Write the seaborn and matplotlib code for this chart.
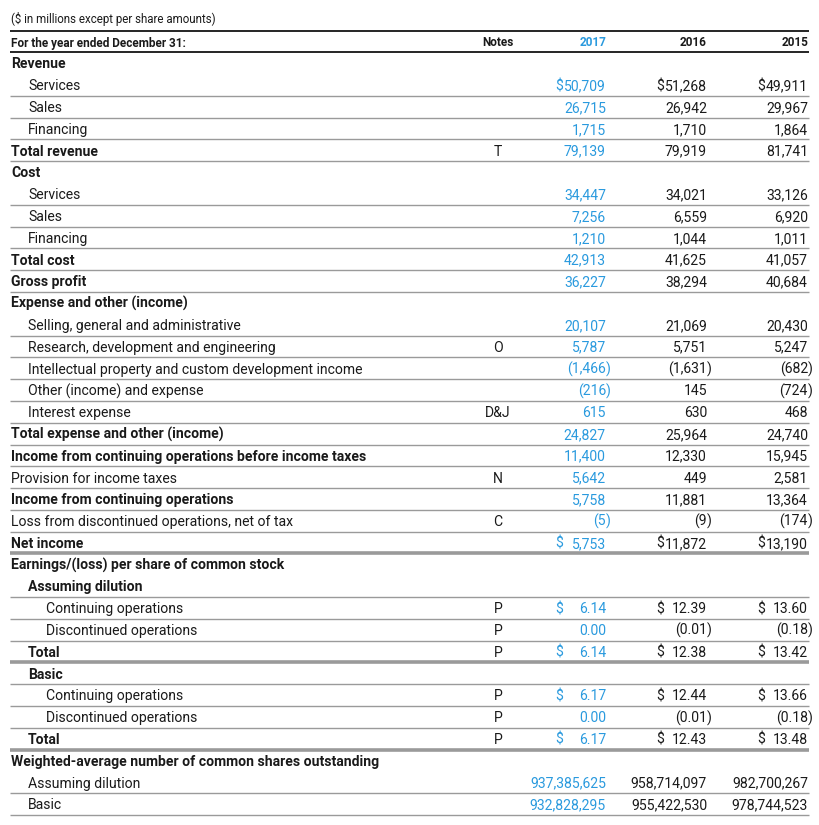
import matplotlib
matplotlib.use("Agg")
import matplotlib.pyplot as plt
import seaborn as sns

# IBM income statement, $ in millions except per share amounts
labels = [
    "Revenue", "Services", "Sales", "Financing", "Total revenue",
    "Cost", "Services", "Sales", "Financing", "Total cost", "Gross profit",
    "Expense and other (income)", "Selling, general and administrative",
    "Research, development and engineering",
    "Intellectual property and custom development income",
    "Other (income) and expense", "Interest expense",
    "Total expense and other (income)",
    "Income from continuing operations before income taxes",
    "Provision for income taxes", "Income from continuing operations",
    "Loss from discontinued operations, net of tax", "Net income",
    "Earnings/(loss) per share of common stock", "Assuming dilution",
    "Continuing operations", "Discontinued operations", "Total",
    "Basic", "Continuing operations", "Discontinued operations", "Total",
    "Weighted-average number of common shares outstanding",
    "Assuming dilution", "Basic",
]
indent = [0, 1, 1, 1, 0, 0, 1, 1, 1, 0, 0, 0, 1, 1, 1, 1, 1, 0, 0, 0, 0, 0, 0,
          0, 1, 2, 2, 1, 1, 2, 2, 1, 0, 1, 1]
bold = [1, 0, 0, 0, 1, 1, 0, 0, 0, 1, 1, 1, 0, 0, 0, 0, 0, 1, 1, 0, 1, 0, 1,
        1, 1, 0, 0, 1, 1, 0, 0, 1, 1, 0, 0]
notes = ["", "", "", "", "T", "", "", "", "", "", "", "", "", "O", "", "", "D&J",
         "", "", "N", "", "C", "", "", "", "P", "P", "P", "", "P", "P", "P",
         "", "", ""]
# row kind: h = header (no values), m = millions, s = per share, n = share count
kind = ["h", "m", "m", "m", "m", "h", "m", "m", "m", "m", "m", "h", "m", "m",
        "m", "m", "m", "m", "m", "m", "m", "m", "m", "h", "h", "s", "s", "s",
        "h", "s", "s", "s", "h", "n", "n"]
dollar = [0, 1, 0, 0, 0, 0, 0, 0, 0, 0, 0, 0, 0, 0, 0, 0, 0, 0, 0, 0, 0, 0, 1,
          0, 0, 1, 0, 1, 0, 1, 0, 1, 0, 0, 0]
# rule under row: 0 none, 1 thin, 2 thick
rule = [0, 1, 1, 1, 1, 0, 1, 1, 1, 1, 1, 0, 1, 1, 1, 1, 1, 1, 1, 1, 1, 1, 2,
        0, 1, 1, 1, 2, 1, 1, 1, 2, 0, 1, 1]

years = ["2017", "2016", "2015"]
v2017 = [None, 50709, 26715, 1715, 79139, None, 34447, 7256, 1210, 42913, 36227,
         None, 20107, 5787, -1466, -216, 615, 24827, 11400, 5642, 5758, -5, 5753,
         None, None, 6.14, 0.00, 6.14, None, 6.17, 0.00, 6.17, None,
         937385625, 932828295]
v2016 = [None, 51268, 26942, 1710, 79919, None, 34021, 6559, 1044, 41625, 38294,
         None, 21069, 5751, -1631, 145, 630, 25964, 12330, 449, 11881, -9, 11872,
         None, None, 12.39, -0.01, 12.38, None, 12.44, -0.01, 12.43, None,
         958714097, 955422530]
v2015 = [None, 49911, 29967, 1864, 81741, None, 33126, 6920, 1011, 41057, 40684,
         None, 20430, 5247, -682, -724, 468, 24740, 15945, 2581, 13364, -174, 13190,
         None, None, 13.60, -0.18, 13.42, None, 13.66, -0.18, 13.48, None,
         982700267, 978744523]

sns.set_theme(style="white")
plt.rcParams["font.family"] = ["Roboto", "DejaVu Sans"]

BLUE = "#2a9ade"
INK = "#1a1a1a"
GRAY = "#9a9a9a"
FS = 10.1
HFS = 8.5

fig = plt.figure(figsize=(8.19, 8.25), dpi=100)
ax = fig.add_axes([0, 0, 1, 1])
ax.set_xlim(0, 819)
ax.set_ylim(825, 0)
ax.axis("off")

x_left, x_right = 10, 809
indent_x = [11, 28, 46]
col_right = [606, 707, 808]
notes_x = 498
row0, row_h = 63.5, 21.79
base = 5.0  # baseline offset below the row's middle


def fmt(v, k):
    if k == "s":
        s = f"{abs(v):.2f}"
    else:
        s = f"{abs(v):,.0f}"
    return s, v < 0


def put(x, y, s, **kw):
    kw.setdefault("fontsize", FS)
    kw.setdefault("color", INK)
    ax.text(x, y + base, s, va="baseline", **kw)


# header
ax.text(11, 23, "($ in millions except per share amounts)", fontsize=8.3,
        color=INK, va="baseline")
ax.hlines([30.5, 52], x_left, x_right, color="black", lw=1.2)
ax.text(11, 46.5, "For the year ended December 31:", fontsize=HFS,
        fontweight="bold", color=INK, va="baseline")
ax.text(notes_x, 46.5, "Notes", fontsize=HFS, fontweight="bold", color=INK,
        va="baseline", ha="center")
for j, yr in enumerate(years):
    ax.text(col_right[j], 46.5, yr, fontsize=HFS, fontweight="bold",
            color=BLUE if j == 0 else INK, va="baseline", ha="right")

for i, lab in enumerate(labels):
    y = row0 + i * row_h
    put(indent_x[indent[i]], y, lab,
        fontweight="bold" if bold[i] else "normal")
    if notes[i]:
        put(notes_x, y, notes[i], ha="center")
    if kind[i] != "h":
        for j, vals in enumerate([v2017, v2016, v2015]):
            c = BLUE if j == 0 else INK
            s, neg = fmt(vals[i], kind[i])
            if neg:
                s = "(" + s
                put(col_right[j], y, ")", color=c, ha="left")
            put(col_right[j], y, s, color=c, ha="right")
            if dollar[i]:
                put(col_right[j] - 51, y, "$", color=c, ha="left")
    if rule[i]:
        ax.hlines(y + 10.6, x_left, x_right, color=GRAY,
                  lw=1.0 if rule[i] == 1 else 2.6)

fig.savefig("out.png", dpi=100)
